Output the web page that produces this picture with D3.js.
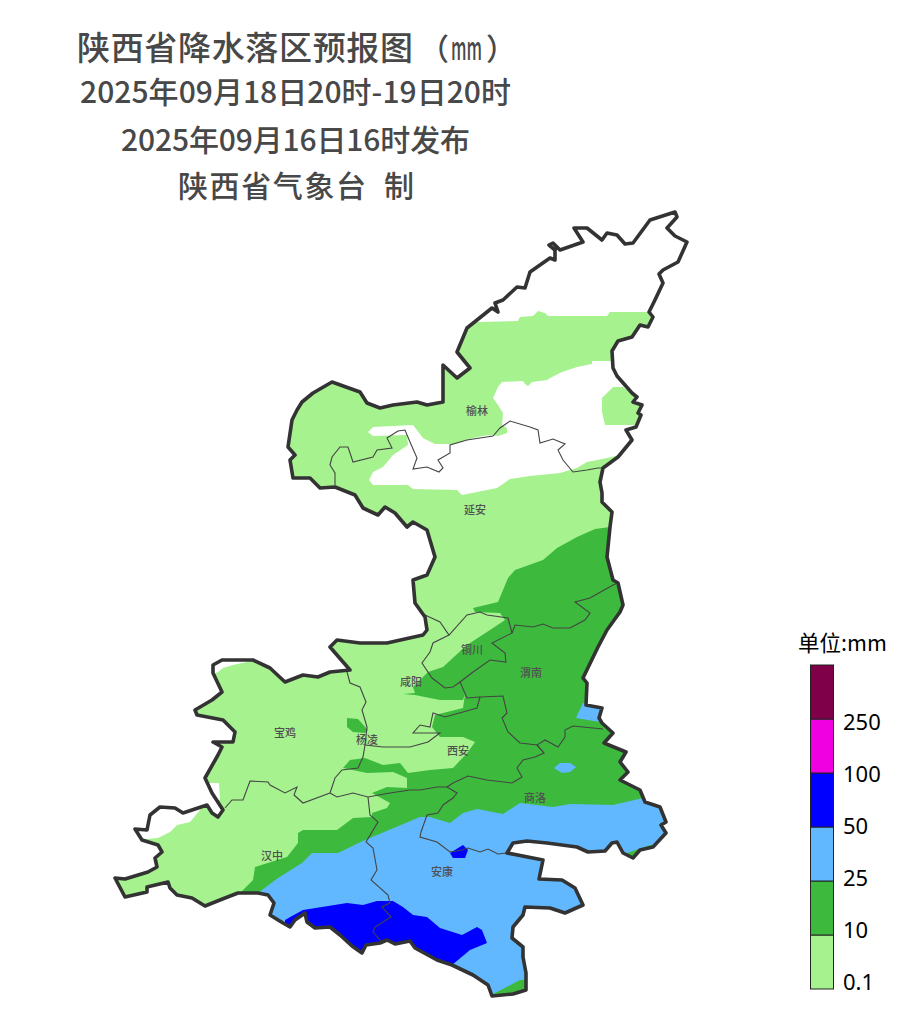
<!DOCTYPE html>
<html>
<head>
<meta charset="utf-8">
<script src="https://cdn.jsdelivr.net/npm/d3@7"></script>
<style>
	body { margin: 0; background: white; }
	svg { display: block; }
</style>
</head>
<body>
<div id="map"></div>
<script>
// rainfall forecast map, all outlines are lon/lat

const provinceBorder = [[111.15,39.58],[111.17,39.53],[111.07,39.42],[111.15,39.34],[111.27,39.28],[111.18,39.08],[111.03,39.00],[110.99,38.96],[111.03,38.87],[110.94,38.68],[110.89,38.58],[110.93,38.53],[110.88,38.43],[110.80,38.45],[110.72,38.33],[110.58,38.29],[110.52,38.19],[110.53,38.02],[110.57,37.94],[110.72,37.77],[110.77,37.73],[110.73,37.68],[110.82,37.65],[110.78,37.57],[110.81,37.55],[110.76,37.43],[110.66,37.40],[110.72,37.30],[110.58,37.13],[110.43,37.02],[110.40,36.88],[110.42,36.77],[110.42,36.68],[110.52,36.58],[110.50,36.43],[110.47,36.13],[110.53,35.90],[110.58,35.87],[110.63,35.65],[110.60,35.58],[110.47,35.40],[110.38,35.23],[110.23,34.92],[110.27,34.87],[110.26,34.65],[110.42,34.62],[110.39,34.52],[110.42,34.47],[110.53,34.37],[110.44,34.27],[110.66,34.18],[110.60,34.08],[110.68,33.98],[110.60,33.90],[110.80,33.80],[110.85,33.68],[111.00,33.63],[111.06,33.48],[111.01,33.45],[111.06,33.37],[110.93,33.23],[110.80,33.20],[110.73,33.12],[110.63,33.17],[110.57,33.28],[110.52,33.27],[110.45,33.19],[110.28,33.18],[110.17,33.23],[109.87,33.27],[109.67,33.29],[109.53,33.27],[109.47,33.17],[109.83,33.10],[109.79,32.91],[110.02,32.90],[110.15,32.82],[110.23,32.65],[110.05,32.57],[109.90,32.62],[109.65,32.63],[109.63,32.55],[109.53,32.43],[109.52,32.32],[109.63,32.23],[109.63,32.13],[109.66,31.97],[109.66,31.80],[109.53,31.76],[109.32,31.74],[109.28,31.85],[109.13,31.95],[108.92,32.05],[108.77,32.10],[108.55,32.22],[108.50,32.29],[108.35,32.26],[108.27,32.30],[108.20,32.27],[108.06,32.25],[108.02,32.17],[107.92,32.24],[107.80,32.35],[107.70,32.43],[107.55,32.42],[107.47,32.48],[107.45,32.57],[107.35,32.50],[107.30,32.43],[107.23,32.47],[107.10,32.55],[107.14,32.67],[107.08,32.75],[106.98,32.77],[106.78,32.77],[106.65,32.72],[106.45,32.64],[106.32,32.72],[106.17,32.75],[106.10,32.82],[106.08,32.88],[105.87,32.83],[105.87,32.78],[105.65,32.73],[105.55,32.92],[105.65,32.91],[105.88,32.98],[105.97,33.03],[105.95,33.12],[106.02,33.18],[105.98,33.25],[105.82,33.30],[105.75,33.41],[105.87,33.40],[105.90,33.55],[106.00,33.63],[106.15,33.62],[106.23,33.57],[106.47,33.65],[106.52,33.57],[106.58,33.53],[106.63,33.60],[106.52,33.77],[106.45,33.92],[106.58,34.15],[106.62,34.23],[106.53,34.28],[106.73,34.28],[106.75,34.38],[106.63,34.50],[106.37,34.55],[106.35,34.60],[106.52,34.70],[106.62,34.78],[106.53,34.97],[106.53,35.05],[106.62,35.10],[106.93,35.10],[107.10,35.02],[107.25,34.88],[107.43,34.95],[107.58,34.93],[107.70,34.98],[107.90,35.00],[107.70,35.23],[107.77,35.30],[108.00,35.27],[108.27,35.27],[108.63,35.35],[108.67,35.40],[108.65,35.53],[108.55,35.67],[108.53,35.90],[108.67,35.95],[108.75,36.13],[108.67,36.40],[108.53,36.48],[108.47,36.43],[108.35,36.57],[108.25,36.63],[108.18,36.55],[108.03,36.62],[107.95,36.75],[107.75,36.83],[107.60,36.82],[107.50,36.92],[107.33,36.92],[107.30,37.10],[107.35,37.15],[107.28,37.23],[107.32,37.50],[107.37,37.60],[107.42,37.68],[107.53,37.77],[107.72,37.88],[108.00,37.78],[108.07,37.67],[108.20,37.62],[108.33,37.65],[108.57,37.68],[108.67,37.65],[108.83,37.68],[108.83,37.90],[108.83,38.05],[108.97,37.92],[109.10,38.02],[108.97,38.18],[109.07,38.42],[109.32,38.62],[109.38,38.58],[109.35,38.67],[109.43,38.70],[109.57,38.83],[109.65,38.82],[109.70,38.98],[109.90,39.12],[109.95,39.10],[109.95,39.20],[109.89,39.25],[109.93,39.27],[110.00,39.20],[110.23,39.28],[110.14,39.42],[110.27,39.42],[110.42,39.30],[110.47,39.37],[110.57,39.35],[110.65,39.26],[110.73,39.27],[110.90,39.50]];

// city boundaries
const cityLines = [
	[[110.43,37.02],[110.38,37.02],[110.27,37.00],[110.13,36.98],[110.03,37.10],[109.98,37.20],[110.05,37.26],[109.93,37.31],[109.80,37.27],[109.78,37.40],[109.70,37.43],[109.50,37.49],[109.40,37.42],[109.33,37.34],[109.07,37.30],[108.90,37.25],[108.90,37.17],[108.78,37.10],[108.83,37.02],[108.79,36.98],[108.67,37.03],[108.53,37.01],[108.57,37.12],[108.50,37.28],[108.45,37.40],[108.38,37.39],[108.27,37.32],[108.32,37.22],[108.17,37.20],[108.13,37.13],[107.93,37.08],[107.88,37.23],[107.80,37.23],[107.72,37.13],[107.70,37.05],[107.75,36.97],[107.75,36.85]],
	[[108.65,35.55],[108.80,35.48],[108.89,35.35],[109.07,35.55],[109.20,35.58],[109.27,35.55],[109.48,35.52],[109.52,35.37],[109.32,35.27],[109.45,35.17],[109.46,35.08],[109.30,35.10],[109.13,34.98],[109.00,34.88],[109.07,34.72],[109.20,34.73],[109.43,34.74],[109.47,34.57],[109.42,34.52],[109.48,34.38],[109.60,34.27],[109.77,34.25],[109.84,34.17]],
	[[108.89,35.35],[108.73,35.27],[108.70,35.18],[108.62,35.07],[108.72,34.92],[108.85,34.82],[108.93,34.83],[109.00,34.88]],
	[[109.52,35.37],[109.55,35.45],[109.73,35.43],[109.83,35.46],[109.93,35.42],[110.10,35.42],[110.25,35.50],[110.30,35.57],[110.15,35.68],[110.30,35.72],[110.53,35.85],[110.58,35.87]],
	[[109.20,34.73],[109.17,34.62],[109.03,34.58],[108.85,34.53],[108.73,34.57],[108.70,34.43],[108.60,34.45],[108.53,34.37],[108.80,34.37],[108.68,34.28],[108.50,34.23],[108.23,34.23],[108.05,34.25]],
	[[107.87,34.98],[107.90,34.87],[108.00,34.83],[108.06,34.68],[108.02,34.60],[108.07,34.43],[108.05,34.25],[108.03,34.13],[107.98,34.02],[107.82,34.00],[107.75,33.92],[107.70,33.77]],
	[[107.70,33.77],[107.43,33.67],[107.34,33.75],[107.37,33.83],[107.25,33.77],[107.10,33.85],[107.08,33.88],[106.90,33.89],[106.83,33.70],[106.72,33.70],[106.65,33.62]],
	[[107.70,33.77],[107.77,33.73],[107.93,33.77],[108.08,33.73],[108.30,33.77],[108.50,33.80],[108.60,33.80],[108.77,33.83],[108.87,33.83],[108.97,33.77],[108.93,33.72],[108.83,33.65],[108.78,33.57],[108.67,33.55],[108.61,33.38],[108.60,33.33],[108.77,33.28],[108.90,33.18],[109.02,33.20],[109.08,33.22],[109.20,33.18],[109.28,33.21],[109.38,33.16],[109.47,33.17]],
	[[108.87,33.83],[108.93,33.87],[109.08,33.94],[109.27,33.90],[109.52,33.87],[109.62,33.93],[109.57,34.02],[109.63,34.10],[109.75,34.13],[109.84,34.17],[109.77,34.25],[109.85,34.30],[109.98,34.23],[110.05,34.33],[110.05,34.40],[110.13,34.44],[110.43,34.41]],
	[[108.08,33.73],[108.10,33.55],[108.18,33.48],[108.06,33.28],[108.13,33.22],[108.17,33.00],[108.11,32.90],[108.28,32.75],[108.30,32.67],[108.22,32.63],[108.31,32.53],[108.15,32.43],[108.13,32.38],[108.22,32.28]]
];

// rain areas, painted in this order and clipped to the province
const noRainAreas = [
	[[108.80,38.48],[109.20,38.48],[109.58,38.49],[109.60,38.53],[109.73,38.54],[109.78,38.59],[109.85,38.57],[109.88,38.54],[110.47,38.54],[110.50,38.58],[111.00,38.58],[111.40,38.58],[111.40,39.70],[108.80,39.70]],
	[[110.53,38.09],[110.32,38.09],[110.32,38.06],[110.17,38.03],[110.02,37.98],[109.92,37.93],[109.87,37.90],[109.72,37.88],[109.68,37.84],[109.65,37.86],[109.63,37.89],[109.42,37.88],[109.38,37.83],[109.33,37.72],[109.38,37.65],[109.43,37.57],[109.42,37.45],[109.47,37.42],[109.47,37.37],[109.38,37.34],[109.28,37.35],[109.13,37.32],[108.95,37.26],[108.75,37.26],[108.63,37.32],[108.53,37.45],[108.13,37.43],[108.08,37.38],[108.13,37.34],[108.47,37.35],[108.48,37.25],[108.33,37.15],[108.23,37.03],[108.13,36.98],[108.09,36.90],[108.13,36.85],[108.48,36.85],[108.53,36.81],[108.97,36.80],[109.02,36.75],[109.07,36.76],[109.37,36.82],[109.50,36.91],[109.70,36.94],[110.00,36.97],[110.17,37.02],[110.27,37.08],[110.52,37.13],[111.00,37.30],[111.00,38.09]],
	[[105.70,33.31],[105.87,33.31],[105.98,33.32],[106.10,33.38],[106.17,33.45],[106.30,33.48],[106.40,33.60],[106.45,33.67],[105.80,33.70],[105.70,33.60]],
	[[106.59,33.87],[106.60,33.70],[106.30,33.70],[106.30,33.87]],
	[[106.40,34.90],[106.58,34.98],[106.63,35.02],[106.73,35.05],[106.87,35.08],[107.00,35.15],[106.40,35.30]]
];
const lightArea = [[110.42,37.72],[110.53,37.83],[110.63,37.83],[110.72,37.77],[111.00,37.75],[111.00,37.45],[110.76,37.45],[110.45,37.45],[110.42,37.58]];
const moderateAreas = [
	[[111.40,36.43],[110.50,36.43],[110.35,36.41],[110.17,36.33],[109.97,36.22],[109.83,36.10],[109.55,36.00],[109.48,35.92],[109.38,35.68],[109.13,35.62],[109.15,35.58],[109.40,35.57],[109.45,35.50],[109.30,35.40],[109.07,35.25],[108.83,35.03],[108.68,34.98],[108.53,34.83],[108.55,34.77],[108.43,34.76],[108.55,34.75],[108.80,34.70],[109.03,34.70],[109.05,34.76],[109.03,34.62],[108.83,34.57],[108.75,34.55],[108.72,34.43],[108.80,34.33],[109.03,34.33],[109.15,34.28],[109.08,34.18],[108.93,34.02],[108.70,34.00],[108.48,33.97],[108.40,34.07],[108.23,34.05],[108.05,34.12],[107.90,34.10],[107.83,34.02],[108.07,33.97],[108.33,33.98],[108.47,33.92],[108.47,33.82],[108.27,33.83],[108.12,33.77],[108.30,33.67],[108.27,33.62],[108.12,33.57],[108.12,33.53],[107.93,33.52],[107.77,33.40],[107.43,33.40],[107.38,33.37],[107.38,33.27],[107.27,33.13],[106.95,33.03],[106.93,32.90],[106.78,32.75],[106.70,31.65],[111.40,31.65]],
	[[107.87,34.52],[107.98,34.51],[108.08,34.40],[108.05,34.37],[107.93,34.38],[107.87,34.43]]
];
const heavyAreas = [
	[[106.98,32.77],[107.18,32.92],[107.42,33.07],[107.52,33.17],[107.78,33.17],[108.05,33.30],[108.60,33.53],[108.70,33.53],[108.90,33.47],[109.03,33.57],[109.17,33.61],[109.43,33.56],[109.60,33.67],[109.93,33.63],[110.10,33.66],[110.53,33.65],[110.83,33.72],[111.40,33.75],[111.40,33.25],[110.90,33.25],[110.67,33.17],[110.40,33.00],[110.40,31.95],[109.60,31.90],[109.33,31.76],[109.20,31.65],[106.98,31.65]],
	[[110.23,34.67],[110.16,34.52],[110.40,34.48],[110.60,34.48],[110.60,34.70]],
	[[109.94,34.02],[110.00,34.07],[110.10,34.07],[110.16,34.03],[110.10,33.98],[110.02,33.97]]
];
const stormAreas = [
	[[107.25,32.50],[107.32,32.54],[107.43,32.60],[107.87,32.67],[108.03,32.65],[108.17,32.69],[108.33,32.69],[108.43,32.63],[108.53,32.55],[108.67,32.53],[108.80,32.42],[109.02,32.35],[109.17,32.43],[109.22,32.40],[109.27,32.27],[109.10,32.20],[108.92,32.05],[108.90,31.65],[107.25,31.65]],
	[[108.90,33.17],[109.03,33.25],[109.08,33.20],[109.05,33.12],[108.93,33.12]]
];

const cityNames = ["榆林", "延安", "铜川", "咸阳", "渭南", "宝鸡", "杨凌", "西安", "商洛", "汉中", "安康"];
const cityLon = [109.17, 109.15, 109.12, 108.51, 109.71, 107.25, 108.07, 108.98, 109.75, 107.12, 108.82];
const cityLat = [37.59, 36.60, 35.20, 34.88, 34.97, 34.37, 34.30, 34.19, 33.72, 33.14, 32.98];

// legend, bottom to top
const legendLabels = ["0.1", "10", "25", "50", "100", "250"];
const legendColors = ["#a6f28f", "#3dba3d", "#61b8ff", "#0000fe", "#f000e0", "#7f0048"];

// title pieces, the first line is split so the mm can be squeezed like in the original
const titlePieces = ["陕西省降水落区预报图", "（", "mm", "）", "2025年09月18日20时-19日20时", "2025年09月16日16时发布", "陕西省气象台", "制"];

const w = 900, h = 1020;
const fontFamily = "'Noto Sans CJK SC', 'Noto Sans', sans-serif";
const titleColor = "#484848";

const x = d3.scaleLinear().domain([104.4, 113.4]).range([0, w]);
const y = d3.scaleLinear().domain([41.7, 31.5]).range([0, h]);
const ring = d3.line().x(d => x(d[0])).y(d => y(d[1]));

const svg = d3.select("#map")
	.append("svg")
	.attr("width", w)
	.attr("height", h);

svg.append("clipPath")
	.attr("id", "province")
	.append("path")
	.attr("d", ring(provinceBorder) + "Z");

// rain layers
const rain = svg.append("g").attr("clip-path", "url(#province)");

const drawAreas = function(areas, color) {
	rain.append("g")
		.selectAll("path")
		.data(areas)
		.join("path")
			.attr("d", d => ring(d) + "Z")
			.attr("fill", color);
};

drawAreas([provinceBorder], legendColors[0]);
drawAreas(noRainAreas, "white");
drawAreas([lightArea], legendColors[0]);
drawAreas(moderateAreas, legendColors[1]);
drawAreas(heavyAreas, legendColors[2]);
drawAreas(stormAreas, legendColors[3]);

// city boundaries
svg.append("g")
	.selectAll("path")
	.data(cityLines)
	.join("path")
		.attr("d", ring)
		.attr("fill", "none")
		.attr("stroke", "#444")
		.attr("stroke-width", 1.1);

// province border
svg.append("path")
	.attr("d", ring(provinceBorder) + "Z")
	.attr("fill", "none")
	.attr("stroke", "#333")
	.attr("stroke-width", 3.6)
	.attr("stroke-linejoin", "round");

// city names
svg.append("g")
	.selectAll("text")
	.data(cityNames)
	.join("text")
		.attr("x", (d, i) => x(cityLon[i]))
		.attr("y", (d, i) => y(cityLat[i]))
		.attr("dy", "0.35em")
		.attr("text-anchor", "middle")
		.style("font-family", fontFamily)
		.style("font-size", "11px")
		.style("font-weight", 500)
		.style("fill", "#505050")
		.text(d => d);

// title block
const titleSpecs = [
	{left: 77, width: 336, base: 60, size: 33},
	{left: 419, width: 30, base: 60, size: 30},
	{left: 451, width: 31, base: 60, size: 33},
	{left: 486, width: 30, base: 60, size: 30},
	{left: 80, width: 431, base: 103, size: 30},
	{left: 121, width: 349, base: 151, size: 30},
	{left: 178, width: 188, base: 197, size: 30},
	{left: 384, width: 30, base: 197, size: 30}
];
svg.append("g")
	.selectAll("text")
	.data(titlePieces)
	.join("text")
		.attr("x", (d, i) => titleSpecs[i].left)
		.attr("y", (d, i) => titleSpecs[i].base)
		.attr("textLength", (d, i) => titleSpecs[i].width)
		.attr("lengthAdjust", d => d === "mm" ? "spacingAndGlyphs" : "spacing")
		.style("font-family", fontFamily)
		.style("font-size", (d, i) => titleSpecs[i].size + "px")
		.style("font-weight", 500)
		.style("fill", titleColor)
		.text(d => d);

// legend
const legendY = d3.scaleBand()
	.domain(legendLabels)
	.range([989, 665]);

// the labels sit a little tighter than the boxes
const legendLabelY = d3.scalePoint()
	.domain(legendLabels)
	.range([990, 730]);

const legend = svg.append("g");

legend.selectAll("rect")
	.data(legendLabels)
	.join("rect")
		.attr("x", 810.5)
		.attr("y", d => legendY(d))
		.attr("width", 23)
		.attr("height", legendY.bandwidth())
		.attr("fill", (d, i) => legendColors[i])
		.attr("stroke", "#222")
		.attr("stroke-width", 1);

legend.selectAll("text")
	.data(legendLabels)
	.join("text")
		.attr("x", 843)
		.attr("y", d => legendLabelY(d))
		.style("font-family", "'Noto Sans', sans-serif")
		.style("font-size", "22px")
		.style("fill", "black")
		.text(d => d);

legend.append("text")
	.attr("x", 798)
	.attr("y", 651)
	.style("font-family", fontFamily)
	.style("font-size", "21.5px")
	.style("fill", "black")
	.text("单位:mm");
</script>
</body>
</html>
